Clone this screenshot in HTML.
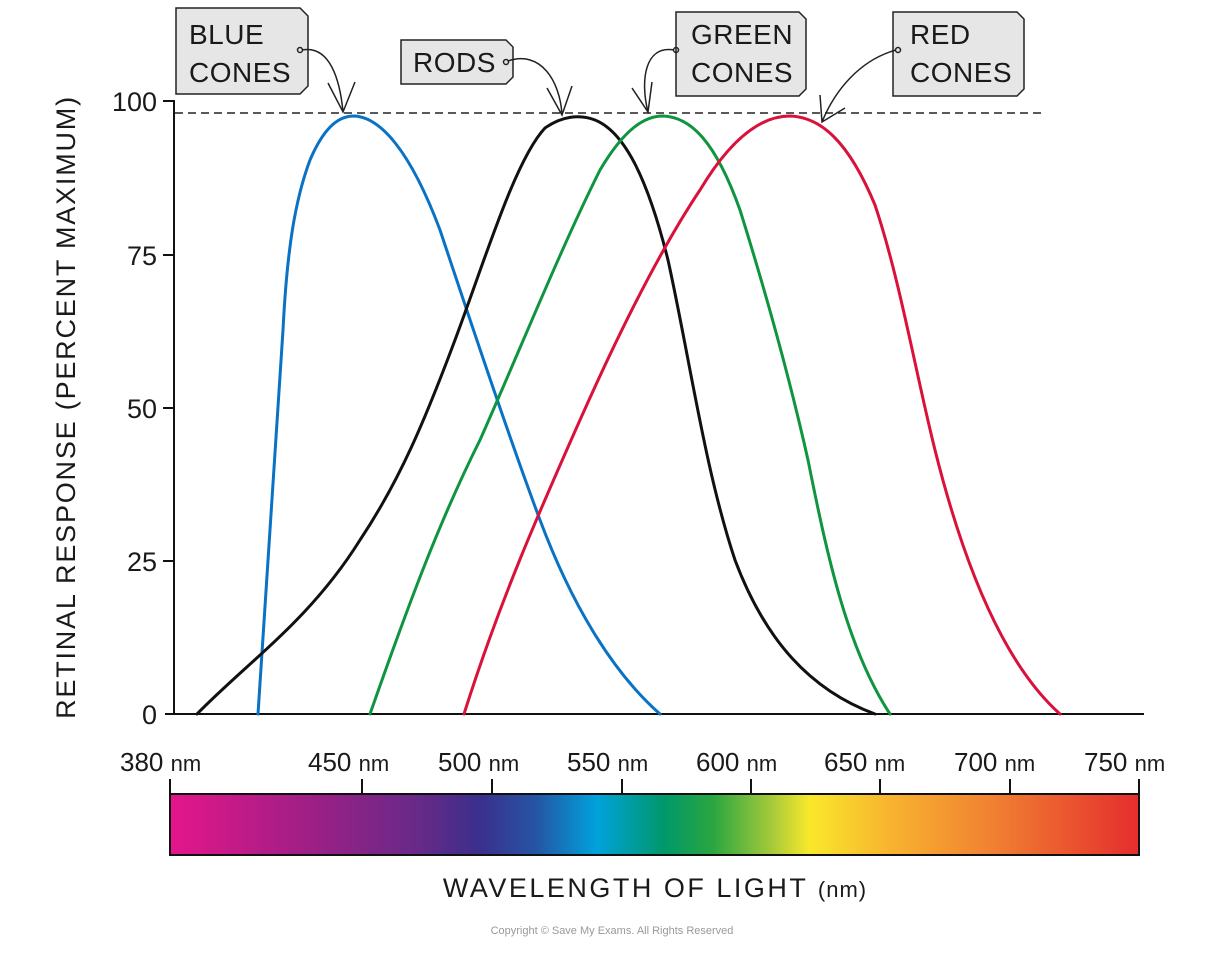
<!DOCTYPE html>
<html><head><style>
body{margin:0;background:#fff}
svg text{font-family:"Liberation Sans",sans-serif;fill:#1a1a1a}
</style></head><body>
<svg width="1226" height="953" viewBox="0 0 1226 953" xmlns="http://www.w3.org/2000/svg">
<defs>
<linearGradient id="sp" x1="0" x2="1" y1="0" y2="0">
<stop offset="0" stop-color="#e4168a"/>
<stop offset="0.14" stop-color="#a01f86"/>
<stop offset="0.26" stop-color="#652a88"/>
<stop offset="0.32" stop-color="#3b2f8c"/>
<stop offset="0.38" stop-color="#2457a6"/>
<stop offset="0.44" stop-color="#00a2dc"/>
<stop offset="0.51" stop-color="#00986b"/>
<stop offset="0.56" stop-color="#2aa640"/>
<stop offset="0.62" stop-color="#a3c93a"/>
<stop offset="0.66" stop-color="#f9e82b"/>
<stop offset="0.74" stop-color="#f8b52f"/>
<stop offset="0.85" stop-color="#f08032"/>
<stop offset="1" stop-color="#e52d2d"/>
</linearGradient>
</defs>
<line x1="174" y1="100" x2="174" y2="714" stroke="#111" stroke-width="2"/>
<line x1="165" y1="714" x2="1144" y2="714" stroke="#111" stroke-width="2"/>
<g stroke="#111" stroke-width="2">
<line x1="163" y1="101" x2="174" y2="101"/><line x1="163" y1="255" x2="174" y2="255"/>
<line x1="163" y1="408" x2="174" y2="408"/><line x1="163" y1="561" x2="174" y2="561"/>
</g>
<line x1="175" y1="113" x2="1042" y2="113" stroke="#222" stroke-width="1.5" stroke-dasharray="8,5"/>
<g font-size="27" text-anchor="end">
<text x="157" y="111">100</text><text x="157" y="265">75</text><text x="157" y="418">50</text><text x="157" y="571">25</text><text x="157" y="724">0</text>
</g>
<text transform="translate(75,407) rotate(-90)" font-size="27" text-anchor="middle" letter-spacing="1.8">RETINAL RESPONSE (PERCENT MAXIMUM)</text>
<g fill="none" stroke-width="3" stroke-linejoin="round" stroke-linecap="round">
<path stroke="#0a72c4" d="M258,714 L283,330 C287,250 295,200 310,160 C325,125 340,116 354,116 C380,117 410,150 440,230 C470,320 510,440 540,520 C570,600 610,670 660,714"/>
<path stroke="#111" d="M197,714 C250,660 310,620 360,540 C400,480 425,420 455,340 C485,260 515,160 545,128 C562,116 580,114 595,120 C625,132 648,180 668,260 C690,360 705,470 735,560 C765,640 810,690 875,714"/>
<path stroke="#0f9440" d="M370,714 C410,600 440,520 480,440 C520,350 560,250 600,170 C625,128 645,116 663,116 C690,117 715,140 740,210 C765,290 790,380 808,460 C828,560 848,650 890,714"/>
<path stroke="#d8123a" d="M464,714 C500,600 540,510 580,420 C620,330 660,250 700,190 C730,140 760,116 790,116 C820,117 848,140 875,205 C900,280 915,370 935,450 C965,570 1005,665 1060,714"/>
</g>
<g fill="#e6e6e6" stroke="#222" stroke-width="1.5">
<path d="M176,8 H300 L308,16 V86 L300,94 H176 Z"/>
<path d="M401,40 H506 L513,47 V77 L506,84 H401 Z"/>
<path d="M676,12 H799 L806,19 V89 L799,96 H676 Z"/>
<path d="M893,12 H1017 L1024,19 V89 L1017,96 H893 Z"/>
</g>
<g font-size="28" letter-spacing="0.5">
<text x="189" y="44">BLUE</text><text x="189" y="82">CONES</text>
<text x="413" y="72">RODS</text>
<text x="691" y="44">GREEN</text><text x="691" y="82">CONES</text>
<text x="910" y="44">RED</text><text x="910" y="82">CONES</text>
</g>
<g fill="none" stroke="#222" stroke-width="1.5">
<circle cx="300" cy="50" r="2.5"/><circle cx="506" cy="62" r="2.5"/><circle cx="676" cy="50" r="2.5"/><circle cx="898" cy="50" r="2.5"/>
<path d="M302,50 C330,45 340,80 343,112 M328,83 L343,112 L355,82"/>
<path d="M508,61 C540,50 560,80 562,115 M547,88 L562,115 L572,86"/>
<path d="M674,50 C645,45 640,80 648,112 M632,88 L648,112 L652,82"/>
<path d="M896,50 C860,60 835,90 822,122 M820,95 L822,122 L845,108"/>
</g>
<g font-size="26">
<text x="120" y="771">380 <tspan font-size="22">nm</tspan></text>
<text x="308" y="771">450 <tspan font-size="22">nm</tspan></text>
<text x="438" y="771">500 <tspan font-size="22">nm</tspan></text>
<text x="567" y="771">550 <tspan font-size="22">nm</tspan></text>
<text x="696" y="771">600 <tspan font-size="22">nm</tspan></text>
<text x="824" y="771">650 <tspan font-size="22">nm</tspan></text>
<text x="954" y="771">700 <tspan font-size="22">nm</tspan></text>
<text x="1084" y="771">750 <tspan font-size="22">nm</tspan></text>
</g>
<g stroke="#111" stroke-width="2">
<line x1="170" y1="779" x2="170" y2="794"/><line x1="362" y1="779" x2="362" y2="794"/><line x1="492" y1="779" x2="492" y2="794"/><line x1="622" y1="779" x2="622" y2="794"/><line x1="751" y1="779" x2="751" y2="794"/><line x1="880" y1="779" x2="880" y2="794"/><line x1="1010" y1="779" x2="1010" y2="794"/><line x1="1139" y1="779" x2="1139" y2="794"/>
</g>
<rect x="170" y="794" width="969" height="61" fill="url(#sp)" stroke="#111" stroke-width="2"/>
<text x="655" y="897" font-size="27" text-anchor="middle" letter-spacing="2.5">WAVELENGTH OF LIGHT <tspan font-size="22" letter-spacing="1">(nm)</tspan></text>
<text x="612" y="934" font-size="11" text-anchor="middle" style="fill:#999">Copyright © Save My Exams. All Rights Reserved</text>
</svg>
</body></html>
